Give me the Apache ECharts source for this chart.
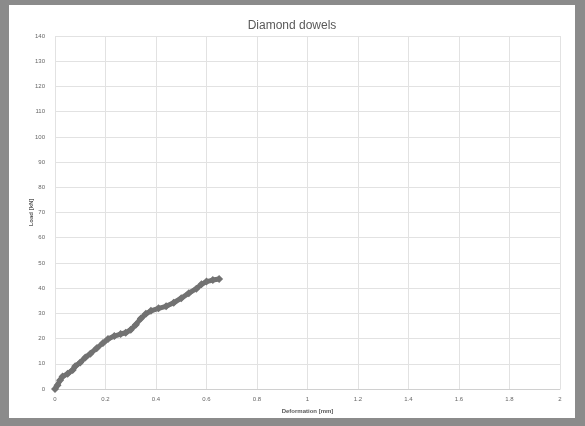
<!DOCTYPE html>
<html>
<head>
<meta charset="utf-8">
<script src="https://cdn.jsdelivr.net/npm/echarts@6/dist/echarts.min.js"></script>
<style>
  html, body { margin: 0; padding: 0; background: #8b8b8b; width: 585px; height: 426px; overflow: hidden; }
  #chart { position: absolute; left: 9px; top: 5px; width: 566px; height: 413px; background: #ffffff; }
</style>
</head>
<body>
<div id="chart"></div>
<script>
// Deformation (mm) vs Load (kN)
const deformation = [0, 0.01, 0.02, 0.03, 0.05, 0.07, 0.08, 0.1, 0.12, 0.14, 0.165, 0.19, 0.21, 0.235, 0.26, 0.28, 0.3, 0.32, 0.34, 0.36, 0.38, 0.41, 0.44, 0.47, 0.5, 0.53, 0.56, 0.58, 0.6, 0.625, 0.65];
const load = [0, 1.5, 3.5, 5, 6, 7.5, 9, 10.5, 12.5, 14, 16.2, 18.2, 19.8, 21, 21.8, 22.3, 23.5, 25.5, 28, 29.8, 31, 32, 32.8, 34.2, 36, 38, 39.8, 41.5, 42.6, 43.2, 43.6];

const xMin = 0, xMax = 2, xStep = 0.2;
const yMin = 0, yMax = 140, yStep = 10;

const points = deformation.map((d, i) => [d, load[i]]);

const chart = echarts.init(document.getElementById('chart'));
const option = {
  animation: false,
  title: {
    text: 'Diamond dowels',
    left: 'center',
    top: 10,
    textStyle: { fontSize: 12, fontWeight: 'normal', color: '#595959', fontFamily: 'Liberation Sans' }
  },
  grid: { left: 46, right: 15, top: 31, bottom: 29, outerBoundsMode: 'none' },
  xAxis: {
    type: 'value',
    min: xMin, max: xMax, interval: xStep,
    name: 'Deformation [mm]',
    nameLocation: 'middle',
    nameGap: 19,
    nameMoveOverlap: false,
    nameTextStyle: { fontSize: 6, color: '#595959', fontWeight: 'bold' },
    axisLine: { lineStyle: { color: '#d0d0d0' } },
    axisTick: { show: false },
    axisLabel: { fontSize: 6, color: '#666', margin: 7 },
    splitLine: { lineStyle: { color: '#e2e2e2' } }
  },
  yAxis: {
    type: 'value',
    min: yMin, max: yMax, interval: yStep,
    name: 'Load [kN]',
    nameLocation: 'middle',
    nameGap: 21,
    nameMoveOverlap: false,
    nameTextStyle: { fontSize: 6, color: '#595959', fontWeight: 'bold' },
    axisLine: { show: false },
    axisTick: { show: false },
    axisLabel: { fontSize: 6, color: '#666', margin: 10 },
    splitLine: { lineStyle: { color: '#e2e2e2' } }
  },
  series: [{
    type: 'line',
    data: points,
    symbol: 'diamond',
    symbolSize: 8,
    showAllSymbol: true,
    lineStyle: { color: '#727272', width: 5 },
    itemStyle: { color: '#727272' }
  }]
};
chart.setOption(option);
</script>
</body>
</html>
